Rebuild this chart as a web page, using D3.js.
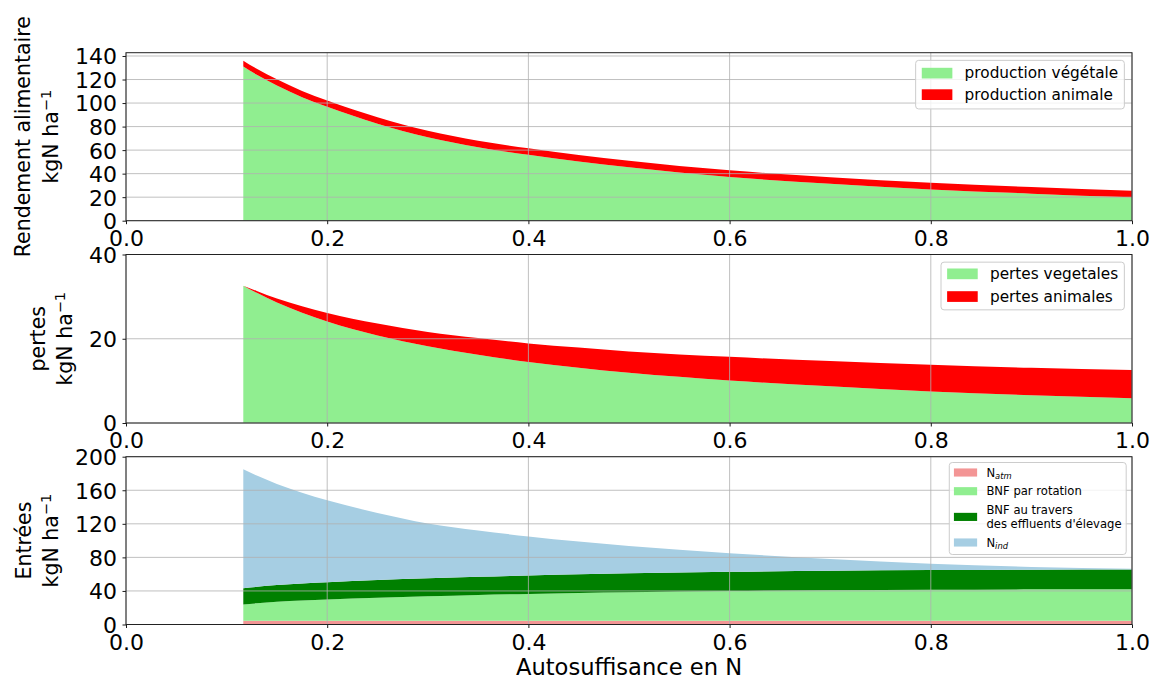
<!DOCTYPE html>
<html><head><meta charset="utf-8">
<script src="https://cdn.jsdelivr.net/npm/d3@7"></script>
<style>body{margin:0;background:#fff} text{font-family:"DejaVu Sans",sans-serif;fill:#000}</style>
</head><body><svg id="c" width="1152" height="679"></svg>
<script>
// ---------- data ----------
const autosuffisance = [0.1166, 0.13, 0.15, 0.175, 0.2, 0.25, 0.3, 0.35, 0.4, 0.45, 0.5, 0.6, 0.7, 0.8, 0.9, 1.0];
// panel 1 : rendement alimentaire
const productionVegetale = [131, 124, 115, 105, 96.8, 82.5, 71, 62.5, 56, 50.3, 45.4, 37.2, 31.4, 26.6, 23.0, 19.9];
const productionAnimale  = [5.0, 5.1, 5.2, 5.3, 5.3, 5.4, 5.4, 5.5, 5.5, 5.5, 5.6, 5.6, 5.6, 5.6, 5.6, 5.6];
// panel 2 : pertes
const pertesVegetales = [32.6, 30.9, 28.6, 26.2, 24.1, 20.8, 18.2, 16.2, 14.5, 13.1, 11.9, 10.1, 8.7, 7.5, 6.6, 5.9];
const pertesAnimales  = [0, 0.45, 0.95, 1.5, 2.0, 2.8, 3.4, 3.95, 4.4, 4.8, 5.1, 5.6, 6.0, 6.3, 6.5, 6.7];
// panel 3 : entrées
const nAtm         = [4.5, 4.5, 4.5, 4.5, 4.5, 4.5, 4.5, 4.5, 4.5, 4.5, 4.5, 4.5, 4.5, 4.5, 4.5, 4.5];
const bnfRotation  = [19.3, 20.7, 22.5, 24.0, 25.3, 27.4, 29.1, 30.7, 32.0, 33.1, 34.0, 35.4, 36.4, 37.0, 37.4, 37.6];
const bnfEffluents = [19.5, 19.7, 20.0, 20.3, 20.5, 21.0, 21.4, 21.7, 22.0, 22.3, 22.5, 22.9, 23.2, 23.4, 23.5, 23.5];
const nInd         = [141.7, 132.6, 120.5, 108.2, 97.7, 80.1, 65.5, 55.1, 46.5, 38.9, 32.5, 22.2, 13.9, 7.4, 3.2, 0.7];

const xTicks  = [0, 0.2, 0.4, 0.6, 0.8, 1.0];
const yTicks1 = [0, 20, 40, 60, 80, 100, 120, 140];
const yTicks2 = [0, 20, 40];
const yTicks3 = [0, 40, 80, 120, 160, 200];
const yLimits = [142.8, 40, 200];

// ---------- layout ----------
const svg = d3.select('#c');
const L = 126, R = 1132;
const x = d3.scaleLinear().domain([0, 1]).range([L, R]);

const panels = [
  { top: 52.7, bottom: 220.7, ymax: yLimits[0], ticks: yTicks1,
    series: [productionVegetale, productionAnimale], colors: ['#90ee90', '#ff0000'],
    labels: [['production végétale'], ['production animale']],
    ylab: 'Rendement alimentaire', labX: [30, 58],
    leg: { fs: 15.3, rows: [12.8, 34.3], h: 48.6 } },
  { top: 254.5, bottom: 423, ymax: yLimits[1], ticks: yTicks2,
    series: [pertesVegetales, pertesAnimales], colors: ['#90ee90', '#ff0000'],
    labels: [['pertes vegetales'], ['pertes animales']],
    ylab: 'pertes', labX: [45, 72],
    leg: { fs: 15.3, rows: [11.7, 34.4], h: 47.7 } },
  { top: 456.7, bottom: 624.5, ymax: yLimits[2], ticks: yTicks3,
    series: [nAtm, bnfRotation, bnfEffluents, nInd], colors: ['#f39595', '#90ee90', '#008000', '#a6cee3'],
    labels: [['N', 'atm'], ['BNF par rotation'], ['BNF au travers', "des effluents d'élevage"], ['N', 'ind']],
    sub: [true, false, false, true],
    ylab: 'Entrées', labX: [31, 58],
    leg: { fs: 11.6, rows: [10, 28.7, 54.4, 80], h: 92 } }
];

panels.forEach((p) => {
  const y = d3.scaleLinear().domain([0, p.ymax]).range([p.bottom, p.top]);
  const g = svg.append('g');
  const rows = autosuffisance.map((xv, i) => {
    const o = { x: xv };
    p.series.forEach((s, k) => o['k' + k] = s[i]);
    return o;
  });
  const keys = p.series.map((s, k) => 'k' + k);
  const stacked = d3.stack().keys(keys)(rows);
  const area = d3.area()
    .x(d => x(d.data.x)).y0(d => y(d[0])).y1(d => y(d[1]))
    .curve(d3.curveMonotoneX);
  g.selectAll('path.layer').data(stacked).join('path')
    .attr('class', 'layer')
    .attr('d', area)
    .attr('fill', (d, i) => p.colors[i]);

  // grid (drawn above the fills, as in the reference)
  const grid = g.append('g').attr('stroke', '#b0b0b0').attr('stroke-width', 0.8);
  xTicks.forEach(t => grid.append('line').attr('x1', x(t)).attr('x2', x(t)).attr('y1', p.top).attr('y2', p.bottom));
  p.ticks.forEach(t => grid.append('line').attr('x1', L).attr('x2', R).attr('y1', y(t)).attr('y2', y(t)));

  // axes
  const ax = d3.axisBottom(x).tickValues(xTicks).tickFormat(d3.format('.1f'))
    .tickSizeInner(3.5).tickSizeOuter(0).tickPadding(6);
  const gx = g.append('g').attr('transform', `translate(0,${p.bottom})`).call(ax);
  const ay = d3.axisLeft(y).tickValues(p.ticks).tickFormat(d3.format('d'))
    .tickSizeInner(3.5).tickSizeOuter(0).tickPadding(5.5);
  const gy = g.append('g').attr('transform', `translate(${L},0)`).call(ay);
  [gx, gy].forEach(a => {
    a.select('.domain').remove();
    a.selectAll('.tick line').attr('stroke', '#000').attr('stroke-width', 0.9);
    a.selectAll('.tick text').attr('font-size', 22).attr('font-family', '"DejaVu Sans",sans-serif').attr('fill', '#000');
  });
  gy.selectAll('.tick text').attr('dy', '0.36em');

  // frame
  g.append('rect').attr('x', L).attr('y', p.top).attr('width', R - L).attr('height', p.bottom - p.top)
    .attr('fill', 'none').attr('stroke', '#222').attr('stroke-width', 1);

  // y label (two lines)
  const cy = (p.top + p.bottom) / 2;
  g.append('text').attr('transform', `translate(${p.labX[0]},${cy}) rotate(-90)`)
    .attr('text-anchor', 'middle').attr('font-size', 20.5).text(p.ylab);
  const t2 = g.append('text').attr('transform', `translate(${p.labX[1]},${cy}) rotate(-90)`)
    .attr('text-anchor', 'middle').attr('font-size', 20.5);
  t2.append('tspan').text('kgN ha');
  t2.append('tspan').attr('dy', '-0.45em').attr('font-size', 14.5).text('\u22121');

  // legend
  const fs = p.leg.fs, lg = g.append('g');
  const box = lg.append('rect');
  const swatchG = lg.append('g');
  const texts = [];
  p.labels.forEach((lab, i) => {
    const cyRow = p.leg.rows[i];
    const t = lg.append('text').attr('font-size', fs).attr('fill', '#222');
    if (p.sub && p.sub[i]) {
      t.attr('x', 0).attr('y', cyRow).attr('dy', '0.35em');
      t.append('tspan').text(lab[0]);
      t.append('tspan').attr('dy', '0.3em').attr('font-size', fs * 0.72).attr('font-style', 'italic').text(lab[1]);
    } else if (lab.length === 2) {
      t.append('tspan').attr('x', 0).attr('y', cyRow - 0.58 * fs).attr('dy', '0.35em').text(lab[0]);
      t.append('tspan').attr('x', 0).attr('y', cyRow + 0.62 * fs).attr('dy', '0.35em').text(lab[1]);
    } else {
      t.attr('x', 0).attr('y', cyRow).attr('dy', '0.35em').text(lab[0]);
    }
    texts.push(t);
  });
  const tw = d3.max(texts, t => t.node().getBBox().width);
  const bw = 3.6 * fs + tw;
  const bx = R - 0.5 * fs - bw, by = p.top + 0.5 * fs;
  box.attr('x', bx).attr('y', by).attr('width', bw).attr('height', p.leg.h)
    .attr('rx', 3).attr('fill', 'white').attr('fill-opacity', 0.8)
    .attr('stroke', '#cccccc').attr('stroke-width', 1);
  texts.forEach((t, i) => {
    t.attr('transform', `translate(${bx + 3.2 * fs},${by})`);
    swatchG.append('rect').attr('x', bx + 0.4 * fs).attr('y', by + p.leg.rows[i] - 0.35 * fs)
      .attr('width', 2 * fs).attr('height', 0.7 * fs).attr('fill', p.colors[i]);
  });
});

svg.append('text').attr('x', (L + R) / 2).attr('y', 675).attr('text-anchor', 'middle')
  .attr('font-size', 22.6).text('Autosuffisance en N');
</script></body></html>
